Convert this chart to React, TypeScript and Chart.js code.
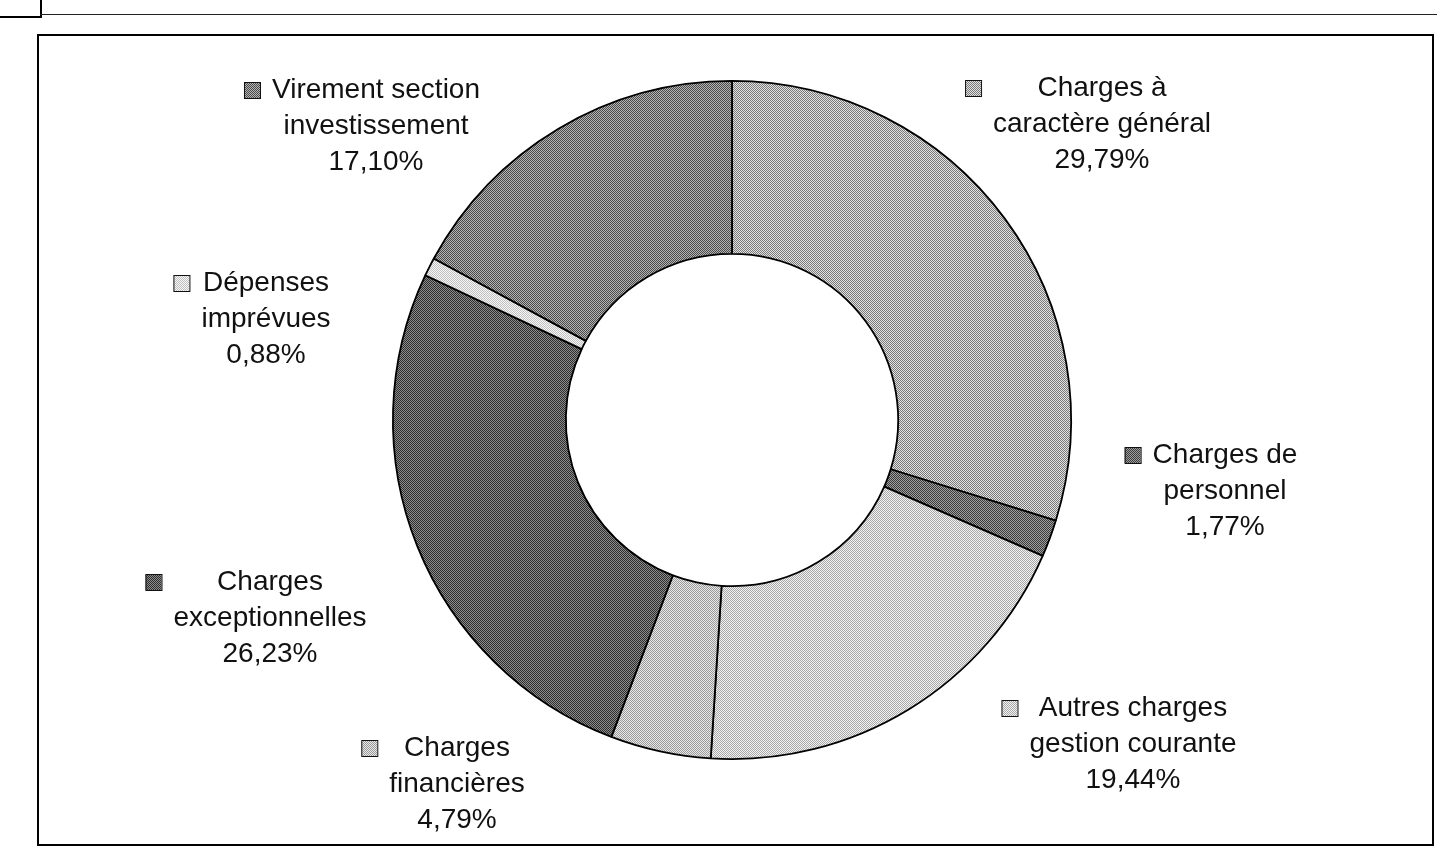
import React, { useEffect, useRef } from "react";
import { Chart, registerables } from "chart.js";

Chart.register(...registerables);

const categories = [
  "Charges à caractère général",
  "Charges de personnel",
  "Autres charges gestion courante",
  "Charges financières",
  "Charges exceptionnelles",
  "Dépenses imprévues",
  "Virement section investissement",
];
const values = [29.79, 1.77, 19.44, 4.79, 26.23, 0.88, 17.1];
const percentLabels = ["29,79%", "1,77%", "19,44%", "4,79%", "26,23%", "0,88%", "17,10%"];
const labelLines = [
  ["Charges à", "caractère général"],
  ["Charges de", "personnel"],
  ["Autres charges", "gestion courante"],
  ["Charges", "financières"],
  ["Charges", "exceptionnelles"],
  ["Dépenses", "imprévues"],
  ["Virement section", "investissement"],
];
// pattern tones (dark pixel, light pixel)
const tones: [string, string][] = [
  ["#7a7a7a", "#e2e2e2"],
  ["#3a3a3a", "#a0a0a0"],
  ["#a8a8a8", "#f2f2f2"],
  ["#9a9a9a", "#e8e8e8"],
  ["#2e2e2e", "#8c8c8c"],
  ["#c0c0c0", "#f6f6f6"],
  ["#4a4a4a", "#b4b4b4"],
];
// label block centers (x, first line y)
const labelAnchors: [number, number][] = [
  [1102, 88],
  [1225, 455],
  [1133, 708],
  [457, 748],
  [270, 582],
  [266, 283],
  [376, 90],
];

function makePattern(a: string, b: string): CanvasPattern | string {
  const c = document.createElement("canvas");
  c.width = 2;
  c.height = 2;
  const x = c.getContext("2d");
  if (!x) return a;
  x.fillStyle = b;
  x.fillRect(0, 0, 2, 2);
  x.fillStyle = a;
  x.fillRect(0, 0, 1, 1);
  x.fillRect(1, 1, 1, 1);
  const p = x.createPattern(c, "repeat");
  return p || a;
}

const labelPlugin = {
  id: "sliceLabels",
  afterDraw(chart: any) {
    const ctx = chart.ctx;
    const pats = chart.data.datasets[0].backgroundColor;
    ctx.save();
    ctx.font = '28px "Liberation Sans", Arial, sans-serif';
    ctx.fillStyle = "#111";
    ctx.textAlign = "center";
    ctx.textBaseline = "middle";
    const lh = 36;
    labelLines.forEach((lines, i) => {
      const [cx, y0] = labelAnchors[i];
      const all = [...lines, percentLabels[i]];
      let maxW = 0;
      all.forEach((t, k) => {
        ctx.fillText(t, cx, y0 + k * lh);
        maxW = Math.max(maxW, ctx.measureText(t).width);
      });
      const firstW = ctx.measureText(all[0]).width;
      const left = Math.min(cx - maxW / 2, cx - firstW / 2);
      const kx = left - 28;
      const ky = y0 - 8;
      ctx.fillStyle = pats[i];
      ctx.fillRect(kx, ky, 16, 16);
      ctx.strokeStyle = "#111";
      ctx.lineWidth = 1;
      ctx.strokeRect(kx + 0.5, ky + 0.5, 16, 16);
      ctx.fillStyle = "#111";
    });
    ctx.restore();
  },
};

export default function App() {
  const ref = useRef<HTMLCanvasElement>(null);
  useEffect(() => {
    document.body.style.margin = "0";
    if (!ref.current) return;
    const pats = tones.map(([a, b]) => makePattern(a, b));
    const chart = new Chart(ref.current, {
      type: "doughnut",
      data: {
        labels: categories,
        datasets: [
          {
            data: values,
            backgroundColor: pats as any,
            borderColor: "#000",
            borderWidth: 1.8,
          },
        ],
      },
      options: {
        responsive: false,
        animation: false,
        devicePixelRatio: 1,
        cutout: "49%",
        layout: { padding: { top: 80, bottom: 104, left: 392, right: 365 } },
        plugins: { legend: { display: false }, tooltip: { enabled: false } },
      },
      plugins: [labelPlugin],
    });
    return () => chart.destroy();
  }, []);
  return (
    <div style={{ position: "relative", width: 1437, height: 864, background: "#fff", overflow: "hidden" }}>
      <div style={{ position: "absolute", left: 0, top: -2, width: 40, height: 18, borderRight: "2px solid #000", borderBottom: "2px solid #000" }} />
      <div style={{ position: "absolute", left: 40, top: 14, width: 1397, height: 0, borderTop: "1px solid #222" }} />
      <div style={{ position: "absolute", left: 37, top: 34, width: 1393, height: 808, border: "2px solid #000" }} />
      <canvas ref={ref} width={1437} height={864} style={{ position: "absolute", left: 0, top: 0 }} />
    </div>
  );
}
